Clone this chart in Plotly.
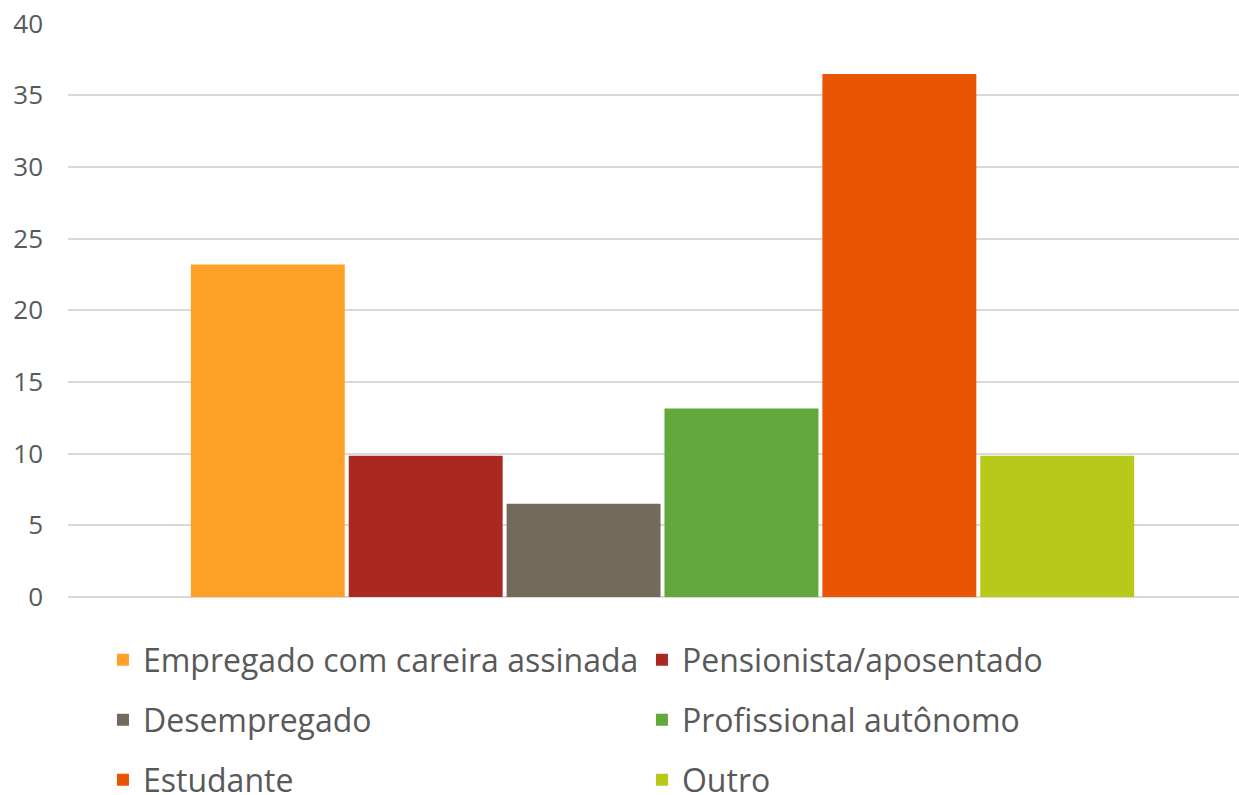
import plotly.graph_objects as go

# categorias e percentuais
categorias = ["Empregado com careira assinada", "Pensionista/aposentado",
              "Desempregado", "Profissional autônomo", "Estudante", "Outro"]
valores = [23.2, 9.85, 6.5, 13.15, 36.5, 9.85]
cores = ["#FEA126", "#A9281F", "#736A5C", "#63A83C", "#EA5504", "#B9C91A"]
legendas = ["legend", "legend", "legend2", "legend2", "legend3", "legend3"]

fig = go.Figure()
for nome, v, cor, lg in zip(categorias, valores, cores, legendas):
    fig.add_trace(go.Bar(
        x=[0], y=[v], name=nome,
        marker=dict(color=cor, line=dict(width=0)),
        legend=lg,
    ))

fonte = dict(family="Open Sans", size=32, color="#595959")
leg = dict(orientation="h", xref="container", yref="container",
           x=0.0831, xanchor="left", yanchor="middle",
           font=fonte, entrywidth=494, bgcolor="rgba(0,0,0,0)",
           traceorder="normal")

fig.update_layout(
    width=1239, height=795,
    margin=dict(l=68, r=0, t=23, b=198, autoexpand=False),
    paper_bgcolor="white", plot_bgcolor="white",
    barmode="group", bargap=0.191, bargroupgap=0.025,
    font=dict(family="Open Sans", color="#595959"),
    xaxis=dict(range=[-0.5077, 0.4923], showticklabels=False, showgrid=False,
               zeroline=False, showline=False, ticks=""),
    yaxis=dict(range=[0, 40.05], tickvals=[0, 5, 10, 15, 20, 25, 30, 35, 40],
               showgrid=True, gridcolor="#D9D9D9",
               gridwidth=2, zeroline=True, zerolinecolor="#D9D9D9",
               zerolinewidth=2, tickfont=dict(size=26, color="#595959"),
               ticklabelstandoff=24, ticks=""),
    legend=dict(leg, y=0.1698),
    legend2=dict(leg, y=0.0943),
    legend3=dict(leg, y=0.0189),
)

# tira a margem padrao do body para a figura ocupar a janela toda
fig.write_html("out.html", config={"displayModeBar": False},
               post_script="document.body.style.margin='0';")
